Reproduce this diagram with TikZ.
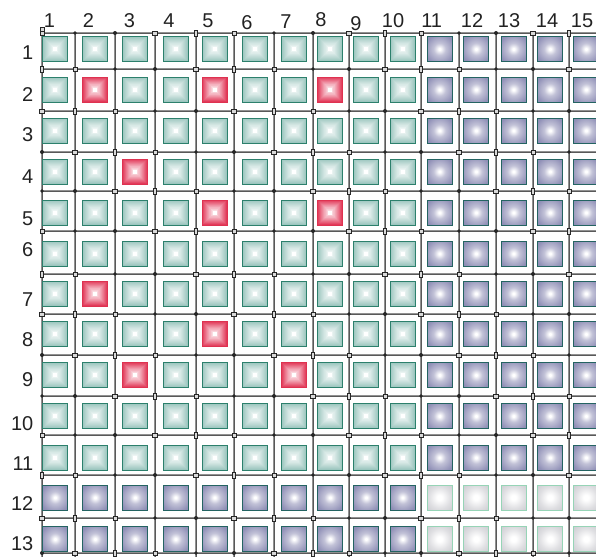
\documentclass[tikz,border=0pt]{standalone}
\usepackage{fontspec}
\setmainfont{Liberation Sans}
\definecolor{tealO}{RGB}{156,198,191}
\definecolor{tealB}{RGB}{44,128,108}
\definecolor{redO}{RGB}{226,58,90}
\definecolor{redB}{RGB}{222,50,80}
\definecolor{blueO}{RGB}{134,134,176}
\definecolor{blueB}{RGB}{36,100,98}
\definecolor{grayO}{RGB}{196,196,202}
\definecolor{grayB}{RGB}{150,212,182}
\definecolor{lineG}{RGB}{145,145,145}
\definecolor{txt}{RGB}{34,34,34}
\pgfdeclareradialshading{blueshade}{\pgfpoint{0bp}{0bp}}{color(0bp)=(white); color(2bp)=(white); color(12bp)=(blueO!50!white); color(30bp)=(blueO!92!white); color(50bp)=(blueO); color(72bp)=(blueO)}
\pgfdeclareradialshading{grayshade}{\pgfpoint{0bp}{0bp}}{color(0bp)=(white); color(5bp)=(white); color(22bp)=(grayO!55!white); color(42bp)=(grayO); color(72bp)=(grayO)}
\newcommand\pyrsq[4]{%
  \foreach \k in {0,...,19}{%
    \pgfmathsetmacro\hs{12.3-\k*0.52}%
    \pgfmathtruncatemacro\pc{100-\k*4.3}%
    \fill[#3!\pc!white] (#1-\hs,#2-\hs) rectangle (#1+\hs,#2+\hs);}
  \fill[white] (#1-2,#2-2) rectangle (#1+2,#2+2);
  \draw[#4,line width=1pt] (#1-12.5,#2-12.5) rectangle (#1+12.5,#2+12.5);}
\newcommand\radsq[4]{%
  \shade[shading=#3] (#1-12.5,#2-12.5) rectangle (#1+12.5,#2+12.5);
  \draw[#4,line width=1pt] (#1-12.5,#2-12.5) rectangle (#1+12.5,#2+12.5);}
\tikzset{
  lbl/.style={inner sep=0pt,text=txt,font=\fontsize{20}{20}\selectfont},
  gridG/.style={lineG,line width=1.6pt},
  gridK/.style={black!65,line width=0.5pt},
  mkopen/.style={draw=black!85,fill=white!85!black,line width=0.6pt},
  mkdot/.style={fill=black!85}
}
\foreach \p in {2-2,5-2,8-2,3-4,5-5,8-5,2-7,5-8,3-9,7-9}{\expandafter\gdef\csname red@\p\endcsname{}}
\begin{document}
\begin{tikzpicture}[x=1pt,y=-1pt]
\useasboundingbox (0,0) rectangle (596,557);
\begin{scope}
\clip (0,0) rectangle (596,557);
% grid lines
\foreach \gx [count=\a] in {42,75,115,155,196,234,274,313,349,385,421,459,496,533,569}{
  \ifnum\a=1 \def\ytop{27}\else\def\ytop{33}\fi
  \draw[gridG] (\gx,\ytop) -- (\gx,557);
  \draw[gridK] (\gx+0.4,\ytop) -- (\gx+0.4,557);
}
\foreach \gy in {33,69,111,152,191,231,274,314,355,396,435,475,518,553}{
  \draw[gridG] (42,\gy) -- (596,\gy);
  \draw[gridK] (42,\gy+0.4) -- (596,\gy+0.4);
}
% junction markers
\foreach \gx [count=\a] in {42,75,115,155,196,234,274,313,349,385,421,459,496,533,569}{
  \foreach \gy [count=\b] in {33,69,111,152,191,231,274,314,355,396,435,475,518,553}{
    \pgfmathtruncatemacro\m{mod(\a*3+\b*7,5)}
    \ifcase\m
      \path[mkopen] (\gx-2,\gy-2) rectangle (\gx+2,\gy+2);
    \or
      \path[mkdot] (\gx,\gy) circle (2);
    \or
      \path[mkopen] (\gx-1.6,\gy-2.8) rectangle (\gx+1.6,\gy+2.8);
    \or
      \path[mkdot] (\gx,\gy) circle (1.8);
    \or
      \path[mkopen] (\gx-2.6,\gy-1.8) rectangle (\gx+2.6,\gy+1.8);
    \fi
  }
}
\path[mkopen] (40,27) rectangle (44,31);
% squares
\foreach \y [count=\j] in {49,89.5,130.5,171.5,212.5,253.5,293.5,334,375,416,457.5,497.5,539}{
  \foreach \x [count=\i] in {55,95,135,175.5,214.5,255,294,330,366,402.5,439.5,476,513.5,550,586}{
    \ifcsname red@\i-\j\endcsname
      \pyrsq{\x}{\y}{redO}{redB}
    \else
      \ifnum\i>10
        \ifnum\j>11 \radsq{\x}{\y}{grayshade}{grayB}\else\radsq{\x}{\y}{blueshade}{blueB}\fi
      \else
        \ifnum\j>11 \radsq{\x}{\y}{blueshade}{blueB}\else\pyrsq{\x}{\y}{tealO}{tealB}\fi
      \fi
    \fi
  }
}
\end{scope}
% column labels
\foreach \lx/\ly [count=\i] in {49.5/27,88.5/27,129.5/27,169/27,208/27,247/29.5,286/28,321/26,356/30,393/27,431.7/27,472/27,509/27,547/27,582/27}{
  \node[lbl,anchor=base] (col\i) at (\lx,\ly) {\i};
}
% row labels
\foreach \ly [count=\j] in {59.3,101,141.7,183.3,225,256.7,306.7,346.7,386.7,430,470,510,550}{
  \node[lbl,anchor=base east] (row\j) at (33.5,\ly) {\j};
}
\end{tikzpicture}
\end{document}
